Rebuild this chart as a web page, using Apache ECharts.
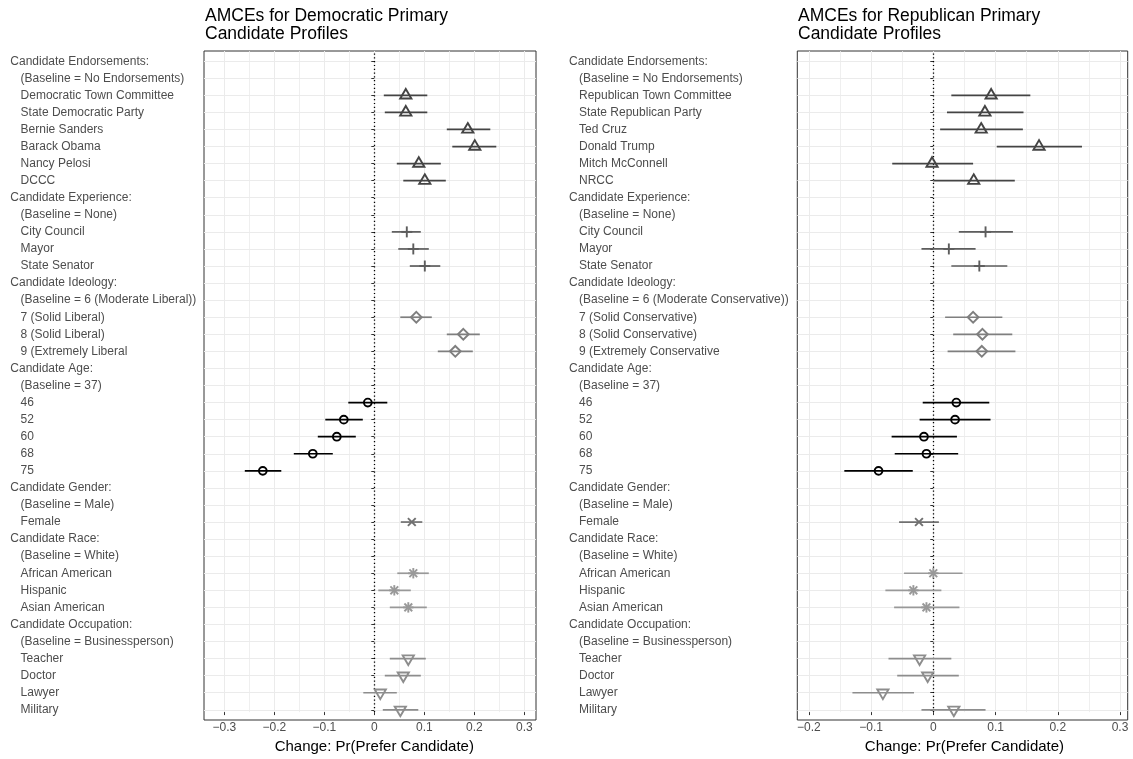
<!DOCTYPE html>
<html><head><meta charset="utf-8">
<script src="https://cdn.jsdelivr.net/npm/echarts@6/dist/echarts.min.js"></script>
<style>html,body{margin:0;padding:0;background:#fff}#c{width:1133px;height:759px}</style>
</head><body><div id="c"></div><script>
// ---------- data ----------
const rowLabelsDem = [
 'Candidate Endorsements:','(Baseline = No Endorsements)','Democratic Town Committee','State Democratic Party','Bernie Sanders','Barack Obama','Nancy Pelosi','DCCC',
 'Candidate Experience:','(Baseline = None)','City Council','Mayor','State Senator',
 'Candidate Ideology:','(Baseline = 6 (Moderate Liberal))','7 (Solid Liberal)','8 (Solid Liberal)','9 (Extremely Liberal',
 'Candidate Age:','(Baseline = 37)','46','52','60','68','75',
 'Candidate Gender:','(Baseline = Male)','Female',
 'Candidate Race:','(Baseline = White)','African American','Hispanic','Asian American',
 'Candidate Occupation:','(Baseline = Businessperson)','Teacher','Doctor','Lawyer','Military'];
const rowLabelsRep = [
 'Candidate Endorsements:','(Baseline = No Endorsements)','Republican Town Committee','State Republican Party','Ted Cruz','Donald Trump','Mitch McConnell','NRCC',
 'Candidate Experience:','(Baseline = None)','City Council','Mayor','State Senator',
 'Candidate Ideology:','(Baseline = 6 (Moderate Conservative))','7 (Solid Conservative)','8 (Solid Conservative)','9 (Extremely Conservative',
 'Candidate Age:','(Baseline = 37)','46','52','60','68','75',
 'Candidate Gender:','(Baseline = Male)','Female',
 'Candidate Race:','(Baseline = White)','African American','Hispanic','Asian American',
 'Candidate Occupation:','(Baseline = Businessperson)','Teacher','Doctor','Lawyer','Military'];
const rowGroup = [
 'Endorsements','Endorsements','Endorsements','Endorsements','Endorsements','Endorsements','Endorsements','Endorsements',
 'Experience','Experience','Experience','Experience','Experience',
 'Ideology','Ideology','Ideology','Ideology','Ideology',
 'Age','Age','Age','Age','Age','Age','Age',
 'Gender','Gender','Gender',
 'Race','Race','Race','Race','Race',
 'Occupation','Occupation','Occupation','Occupation','Occupation','Occupation'];
const demEst  = [null,null,0.063,0.063,0.187,0.201,0.089,0.101, null,null,0.065,0.078,0.101, null,null,0.084,0.178,0.162, null,null,-0.013,-0.061,-0.075,-0.123,-0.223, null,null,0.075, null,null,0.078,0.040,0.068, null,null,0.068,0.058,0.012,0.052];
const demLow  = [null,null,0.019,0.021,0.145,0.156,0.045,0.058, null,null,0.035,0.048,0.071, null,null,0.052,0.145,0.127, null,null,-0.052,-0.098,-0.113,-0.161,-0.259, null,null,0.053, null,null,0.046,0.008,0.031, null,null,0.031,0.021,-0.022,0.017];
const demHigh = [null,null,0.106,0.106,0.232,0.244,0.133,0.143, null,null,0.093,0.109,0.132, null,null,0.115,0.211,0.197, null,null,0.026,-0.023,-0.037,-0.083,-0.186, null,null,0.096, null,null,0.109,0.073,0.105, null,null,0.103,0.093,0.045,0.088];
const repEst  = [null,null,0.093,0.083,0.077,0.170,-0.002,0.065, null,null,0.084,0.025,0.074, null,null,0.064,0.079,0.078, null,null,0.037,0.035,-0.015,-0.011,-0.088, null,null,-0.023, null,null,0.000,-0.032,-0.011, null,null,-0.022,-0.009,-0.081,0.033];
const repLow  = [null,null,0.029,0.022,0.011,0.102,-0.066,0.000, null,null,0.041,-0.019,0.029, null,null,0.019,0.032,0.023, null,null,-0.017,-0.022,-0.067,-0.062,-0.143, null,null,-0.055, null,null,-0.047,-0.077,-0.063, null,null,-0.072,-0.058,-0.130,-0.019];
const repHigh = [null,null,0.156,0.145,0.144,0.239,0.064,0.131, null,null,0.128,0.068,0.119, null,null,0.111,0.127,0.132, null,null,0.090,0.092,0.038,0.040,-0.033, null,null,0.009, null,null,0.047,0.013,0.042, null,null,0.029,0.041,-0.031,0.084];
const xTicksDem = [-0.3, 0.3];
const xTicksRep = [-0.2, 0.3];

// ---------- styles ----------
const FONT = '"Liberation Sans", Arial, Helvetica, sans-serif';
const groupColor = {Age:'#000000', Endorsements:'#444444', Experience:'#5d5d5d', Gender:'#707070', Ideology:'#7f7f7f', Occupation:'#8d8d8d', Race:'#999999'};
const groupShape = {Age:'circle', Endorsements:'triUp', Experience:'plus', Gender:'cross', Ideology:'diamond', Occupation:'triDown', Race:'asterisk'};
const groupNames = Object.keys(groupColor);

function marker(shape, x, y, col) {
  const st = {stroke: col, fill: 'none', lineWidth: 1.9};
  const ln = (x1,y1,x2,y2) => ({type:'line', shape:{x1,y1,x2,y2}, style: st});
  switch (shape) {
    case 'circle': return [{type:'circle', shape:{cx:x, cy:y, r:3.9}, style: st}];
    case 'triUp': return [{type:'polygon', shape:{points:[[x,y-6.4],[x+5.6,y+3.2],[x-5.6,y+3.2]]}, style: st}];
    case 'triDown': return [{type:'polygon', shape:{points:[[x,y+6.4],[x+5.6,y-3.2],[x-5.6,y-3.2]]}, style: st}];
    case 'diamond': return [{type:'polygon', shape:{points:[[x,y-5.4],[x+5.4,y],[x,y+5.4],[x-5.4,y]]}, style: st}];
    case 'plus': return [ln(x-5.5,y,x+5.5,y), ln(x,y-5.5,x,y+5.5)];
    case 'cross': return [ln(x-3.9,y-3.9,x+3.9,y+3.9), ln(x-3.9,y+3.9,x+3.9,y-3.9)];
    case 'asterisk': return [ln(x-3.9,y-3.9,x+3.9,y+3.9), ln(x-3.9,y+3.9,x+3.9,y-3.9), ln(x-5.2,y,x+5.2,y), ln(x,y-5.2,x,y+5.2)];
  }
  return [];
}
function renderItem(params, api) {
  const est = api.value(0), lo = api.value(1), hi = api.value(2), row = api.value(3), gi = api.value(4);
  const g = groupNames[gi];
  const col = groupColor[g];
  const c = api.coord([est, row]), a = api.coord([lo, row]), b = api.coord([hi, row]);
  const children = [{type:'line', shape:{x1:a[0], y1:a[1], x2:b[0], y2:b[1]}, style:{stroke:col, lineWidth:1.7}}];
  return {type:'group', children: children.concat(marker(groupShape[g], c[0], c[1], col))};
}
function buildData(est, low, high) {
  const out = [];
  est.forEach((v, i) => { if (v !== null) out.push([v, low[i], high[i], i, groupNames.indexOf(rowGroup[i])]); });
  return out;
}
const fmtTick = v => Math.abs(v) < 1e-9 ? '0' : (v < 0 ? '\u2212' : '') + Math.abs(v).toFixed(1);

// panel geometry
const TOP = 51, H = 669, ROW0 = 61.2, ROWSPAN = 648.6;
function panel(p, idx, labels, est, low, high, ticks) {
  const gi0 = idx * 3;
  const grids = [
    {left:p.left, top:TOP, width:p.width, height:H, show:true, borderColor:'#333333', borderWidth:1, backgroundColor:'transparent'},
    {left:p.left, top:ROW0, width:p.width, height:ROWSPAN},
    {left:p.tickLeft, top:TOP, width:p.tickWidth, height:H}
  ];
  const xAxes = [
    {gridIndex:gi0, type:'value', min:p.min, max:p.max, show:false},
    {gridIndex:gi0+1, type:'value', min:p.min, max:p.max, show:false},
    {gridIndex:gi0+2, type:'value', min:ticks[0], max:ticks[1], interval:0.1,
     axisLine:{show:false},
     axisTick:{show:true, length:3, lineStyle:{color:'#333333', width:1}},
     axisLabel:{formatter: fmtTick, color:'#4d4d4d', fontSize:12, fontFamily:FONT, margin:10},
     splitLine:{show:true, lineStyle:{color:'#ebebeb', width:1}},
     minorTick:{show:false, splitNumber:2},
     minorSplitLine:{show:true, lineStyle:{color:'#ebebeb', width:0.8}},
     name:'Change: Pr(Prefer Candidate)', nameLocation:'middle', nameGap:22,
     nameTextStyle:{color:'#000', fontSize:15, fontFamily:FONT}}
  ];
  const yAxes = [
    {gridIndex:gi0, type:'value', show:false},
    {gridIndex:gi0+1, type:'category', data: labels.map((_, i) => String(i)), inverse:true, boundaryGap:false,
     axisLine:{show:false},
     axisTick:{show:true, length:3, interval:0, lineStyle:{color:'#333333', width:1}},
     splitLine:{show:true, interval:0, lineStyle:{color:'#ebebeb', width:1}},
     axisLabel:{interval:0, align:'left', margin:p.left - p.labelX,
       formatter:(v) => { const i = Number(v); const t = labels[i]; return (/:$/.test(t) ? '{h|' : '{i|') + t + '}'; },
       rich:{ h:{color:'#4d4d4d', fontSize:12, fontFamily:FONT}, i:{color:'#4d4d4d', fontSize:12, fontFamily:FONT, padding:[0,0,0,p.indent]} } }},
    {gridIndex:gi0+2, type:'value', min:0, max:1, show:false}
  ];
  const series = [
    {type:'custom', xAxisIndex:gi0+1, yAxisIndex:gi0+1, renderItem, data: buildData(est, low, high),
     encode:{x:[0,1,2], y:3}, z:5, clip:false},
    {type:'line', xAxisIndex:gi0+2, yAxisIndex:gi0+2, data:[[0,0.5]], showSymbol:false, lineStyle:{width:0}, z:3,
     markLine:{silent:true, symbol:['none','none'], label:{show:false}, animation:false,
       lineStyle:{type:[1.2,2.6], color:'#000', width:1.3}, data:[{xAxis:0}]}}
  ];
  return {grids, xAxes, yAxes, series};
}

const L = panel({left:204, width:332, min:-0.3406, max:0.3234, tickLeft:224.3, tickWidth:300, labelX:10.3, indent:10.3},
  0, rowLabelsDem, demEst, demLow, demHigh, xTicksDem);
const R = panel({left:797.3, width:330.4, min:-0.2186, max:0.3125, tickLeft:808.9, tickWidth:311.1, labelX:569, indent:10},
  1, rowLabelsRep, repEst, repLow, repHigh, xTicksRep);

const chart = echarts.init(document.getElementById('c'), null, {renderer:'canvas'});
chart.setOption({
  animation:false,
  backgroundColor:'#ffffff',
  title:[
    {text:'AMCEs for Democratic Primary\nCandidate Profiles', left:205, top:7, padding:0,
     textStyle:{fontSize:17.5, fontWeight:'normal', color:'#000', fontFamily:FONT, lineHeight:18}},
    {text:'AMCEs for Republican Primary\nCandidate Profiles', left:798, top:7, padding:0,
     textStyle:{fontSize:17.5, fontWeight:'normal', color:'#000', fontFamily:FONT, lineHeight:18}}
  ],
  grid: L.grids.concat(R.grids),
  xAxis: L.xAxes.concat(R.xAxes),
  yAxis: L.yAxes.concat(R.yAxes),
  series: L.series.concat(R.series)
});
</script></body></html>
